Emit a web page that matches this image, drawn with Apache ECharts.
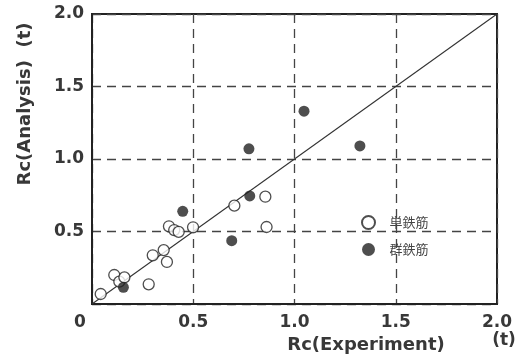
<!DOCTYPE html>
<html>
<head>
<meta charset="utf-8">
<script src="https://cdn.jsdelivr.net/npm/echarts@6/dist/echarts.min.js"></script>
<style>
  html, body { margin: 0; padding: 0; background: #fff; }
  #chart { width: 525px; height: 358px; }
</style>
</head>
<body>
<div id="chart"></div>
<script>
// 単鉄筋 (open circles): [experiment, analysis]
const singleBar = [
  [0.043, 0.069], [0.11, 0.20], [0.135, 0.154], [0.16, 0.184],
  [0.28, 0.136], [0.30, 0.336], [0.354, 0.372], [0.37, 0.29],
  [0.38, 0.536], [0.406, 0.51], [0.428, 0.497], [0.499, 0.529],
  [0.703, 0.678], [0.856, 0.74], [0.862, 0.531]
]
// 群鉄筋 (filled circles)
const groupBar = [
  [0.155, 0.115], [0.448, 0.639], [0.69, 0.437], [0.779, 0.745],
  [0.775, 1.07], [1.047, 1.33], [1.323, 1.09]
]
// 1:1 line
const equalLine = [[0, 0], [2, 2]]
const tickLabels = ['0', '0.5', '1.0', '1.5', '2.0']

const textColor = '#383838'
const labelFont = 'DejaVu Sans, sans-serif'

const chart = echarts.init(document.getElementById('chart'))

const dashedGrid = {
  show: true,
  lineStyle: { color: '#444', width: 1.3, type: [9, 6] }
}

const option = {
  animation: false,
  grid: {
    left: 92, right: 28, top: 14, bottom: 54,
    show: true, borderColor: '#222', borderWidth: 2
  },
  xAxis: {
    type: 'value', min: 0, max: 2, interval: 0.5,
    axisLine: { show: true, lineStyle: { color: '#222', width: 2 } },
    axisTick: { show: false },
    splitLine: dashedGrid,
    axisLabel: {
      color: textColor, fontSize: 17, fontWeight: 'bold', fontFamily: labelFont, margin: 10,
      formatter: (v) => {
        const s = tickLabels[Math.round(v / 0.5)]
        return v === 0 ? '{o|' + s + '}' : s
      },
      rich: {
        o: { color: textColor, fontSize: 17, fontWeight: 'bold', fontFamily: labelFont, padding: [0, 24, 0, 0] }
      }
    }
  },
  yAxis: {
    type: 'value', min: 0, max: 2, interval: 0.5,
    axisLine: { show: true, lineStyle: { color: '#222', width: 2 } },
    axisTick: { show: false },
    splitLine: dashedGrid,
    axisLabel: {
      color: textColor, fontSize: 17, fontWeight: 'bold', fontFamily: labelFont, margin: 8,
      showMinLabel: false,
      formatter: (v) => tickLabels[Math.round(v / 0.5)]
    }
  },
  legend: {
    orient: 'vertical', left: 356, top: 210,
    itemWidth: 24, itemHeight: 13, itemGap: 13,
    textStyle: { color: '#444', fontSize: 13, fontFamily: 'Noto Sans CJK JP', padding: [0, 0, 0, 4] },
    data: [
      { name: '単鉄筋', icon: 'circle' },
      { name: '群鉄筋', icon: 'circle' }
    ]
  },
  graphic: [
    {
      type: 'text', x: 25, y: 104, rotation: Math.PI / 2,
      style: {
        text: 'Rc(Analysis)  (t)', fill: textColor, fontSize: 18, fontWeight: 'bold',
        fontFamily: labelFont, align: 'center', verticalAlign: 'middle'
      }
    },
    {
      type: 'text', x: 366, y: 345,
      style: {
        text: 'Rc(Experiment)', fill: textColor, fontSize: 18, fontWeight: 'bold',
        fontFamily: labelFont, align: 'center', verticalAlign: 'middle'
      }
    },
    {
      type: 'text', x: 504, y: 341,
      style: {
        text: '(t)', fill: textColor, fontSize: 17, fontWeight: 'bold',
        fontFamily: labelFont, align: 'center', verticalAlign: 'middle'
      }
    }
  ],
  series: [
    {
      type: 'line', data: equalLine, symbol: 'none', silent: true,
      lineStyle: { color: '#333', width: 1.1 }, z: 1
    },
    {
      name: '単鉄筋', type: 'scatter', data: singleBar,
      symbol: 'circle', symbolSize: 11,
      itemStyle: { color: '#fff', borderColor: '#222', borderWidth: 1.3 }, z: 3
    },
    {
      name: '群鉄筋', type: 'scatter', data: groupBar,
      symbol: 'circle', symbolSize: 11,
      itemStyle: { color: '#222' }, z: 3
    }
  ]
}

chart.setOption(option)
</script>
</body>
</html>
